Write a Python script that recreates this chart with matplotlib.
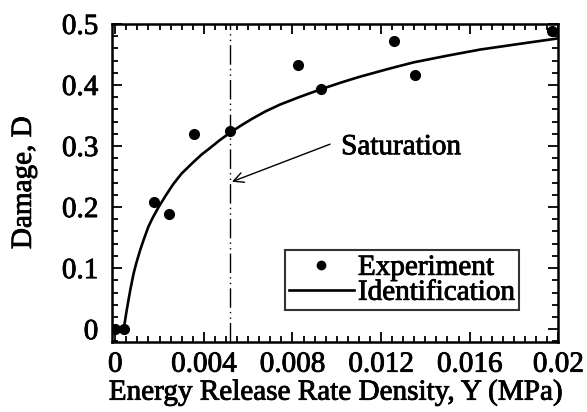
import numpy as np
import matplotlib
matplotlib.use('agg')
import matplotlib.pyplot as plt
import matplotlib.patheffects as pe
from matplotlib.ticker import MultipleLocator, FuncFormatter

exp_Y = [0.0, 0.0004, 0.00173, 0.00245, 0.00354, 0.00519, 0.00826, 0.0093, 0.0126, 0.01354, 0.01973]
exp_D = [0.0, 0.0, 0.209, 0.189, 0.320, 0.325, 0.433, 0.393, 0.472, 0.416, 0.489]

## Identification curve, sampled along the drawn line
fit_Y = [0.000376, 0.00045, 0.0005, 0.0006, 0.0007, 0.00083, 0.00095, 0.00113, 0.0013,
         0.0015, 0.0017, 0.00196, 0.0023, 0.00263, 0.003, 0.00354, 0.0039, 0.00429,
         0.0047, 0.00519, 0.0057, 0.0062, 0.0068, 0.00745, 0.0083, 0.00929, 0.0102,
         0.011, 0.0123, 0.01347, 0.015, 0.01648, 0.0182, 0.01994]
fit_D = [0.0, 0.015, 0.027, 0.048, 0.068, 0.091, 0.108, 0.130, 0.148,
         0.168, 0.183, 0.200, 0.220, 0.238, 0.255, 0.274, 0.286, 0.297,
         0.309, 0.322, 0.334, 0.345, 0.357, 0.368, 0.380, 0.393, 0.404,
         0.413, 0.426, 0.437, 0.448, 0.458, 0.467, 0.476]

Y_sat = 0.0052

x_ticks = [0, 0.004, 0.008, 0.012, 0.016, 0.02]
y_ticks = [0, 0.1, 0.2, 0.3, 0.4, 0.5]

plt.rcParams['font.family'] = ['Liberation Serif', 'DejaVu Serif']
fs = 21
## slight stroke so the text looks like the scanned original
thick = [pe.withStroke(linewidth=0.6, foreground='black')]

fig = plt.figure(figsize=(5.87, 4.12), dpi=100)
ax = fig.add_axes([0.191, 0.170, 0.760, 0.772])

ax.plot(fit_Y, fit_D, '-', color='black', lw=1.9, label='Identification', zorder=3)
ax.plot(exp_Y, exp_D, 'o', color='black', ms=7, label='Experiment', zorder=4)
ax.axvline(Y_sat, color='black', lw=1.0, ls=(0, (14, 3, 1, 3, 1, 3)))

ax.text(0.0102, 0.298, 'Saturation', fontsize=fs, ha='left', va='center', path_effects=thick)
ax.annotate('', xy=(0.00527, 0.2415), xytext=(0.0097, 0.303),
            arrowprops=dict(arrowstyle='->', lw=1.0, color='black', mutation_scale=18,
                            shrinkA=0, shrinkB=0))

ax.set_xlim(-0.00014, 0.02)
ax.set_ylim(-0.021, 0.5)
ax.set_xticks(x_ticks)
ax.set_yticks(y_ticks)
ax.xaxis.set_minor_locator(MultipleLocator(0.0005))
ax.yaxis.set_minor_locator(MultipleLocator(0.02))

fmt = FuncFormatter(lambda v, p: ('%.3f' % v).rstrip('0').rstrip('.') if v != 0 else '0')
ax.xaxis.set_major_formatter(fmt)
ax.yaxis.set_major_formatter(fmt)

ax.tick_params(which='both', direction='in', top=True, right=True, labelsize=fs, width=1.3)
ax.tick_params(which='major', length=7)
ax.tick_params(which='minor', length=4)
ax.tick_params(axis='x', pad=7)
ax.tick_params(axis='y', pad=10)
for s in ax.spines.values():
    s.set_linewidth(1.8)

ax.set_xlabel('Energy Release Rate Density, Y (MPa)', fontsize=fs, labelpad=1, path_effects=thick)
ax.set_ylabel('Damage, D', fontsize=fs, labelpad=18, path_effects=thick)
for t in ax.get_xticklabels() + ax.get_yticklabels():
    t.set_path_effects(thick)

h, l = ax.get_legend_handles_labels()
leg = ax.legend(h[::-1], l[::-1], loc='lower right', bbox_to_anchor=(0.913, 0.10),
                fontsize=fs, frameon=True, fancybox=False, edgecolor='black',
                handlelength=2.2, handletextpad=0.15, borderpad=0.15, labelspacing=-0.05,
                borderaxespad=0)
leg.get_frame().set_linewidth(1.5)
leg.legend_handles[0].set_markersize(6)
for t in leg.get_texts():
    t.set_path_effects(thick)

fig.savefig('out.png', dpi=100)
